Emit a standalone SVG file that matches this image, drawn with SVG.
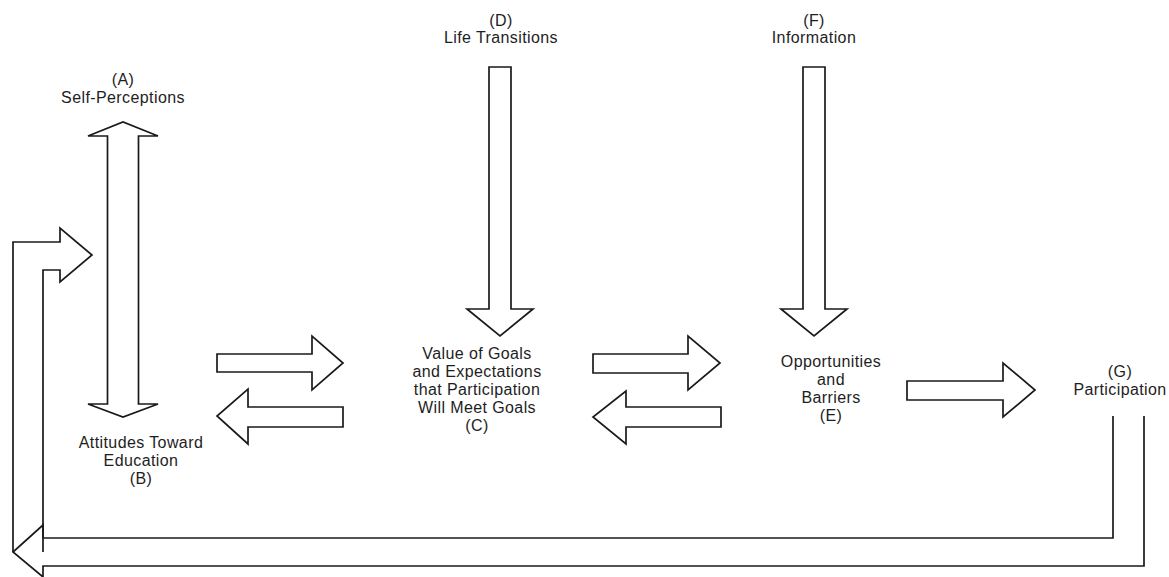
<svg xmlns="http://www.w3.org/2000/svg" width="1169" height="577" viewBox="0 0 1169 577">
  <style>
    .lbl { font-family: "Liberation Sans", Arial, sans-serif; font-size: 16px; letter-spacing: 0.4px; fill: #1e1e1e; text-anchor: middle; }
    .arrow { fill: #ffffff; stroke: #1a1a1a; stroke-width: 1.7; stroke-linejoin: miter; }
    .line { fill: none; stroke: #1a1a1a; stroke-width: 1.7; stroke-linejoin: miter; }
  </style>
  <rect width="1169" height="577" fill="#ffffff"/>

  <!-- Block arrows linking the factors -->
  <g id="connectors">
    <!-- A <-> B -->
    <path class="arrow" d="M107.5,136 H88 L123,122 L158,136 H138.5 V404 H158 L123,417 L88,404 H107.5 Z"/>
    <!-- D -> C -->
    <path class="arrow" d="M489,67 H511 V309 H533 L500,336 L467,309 H489 Z"/>
    <!-- F -> E -->
    <path class="arrow" d="M803,67 H825 V309 H847 L814,336 L781,309 H803 Z"/>
    <!-- B -> C -->
    <path class="arrow" d="M217,354 H312 V336 L343,363 L312,390 V372 H217 Z"/>
    <!-- C -> B -->
    <path class="arrow" d="M343,407 H248 V389 L217,416 L248,444 V427 H343 Z"/>
    <!-- C -> E -->
    <path class="arrow" d="M593,354 H688 V336 L720,363 L688,390 V373 H593 Z"/>
    <!-- E -> C -->
    <path class="arrow" d="M721,407 H626 V391 L593,417 L626,444 V427 H721 Z"/>
    <!-- E -> G -->
    <path class="arrow" d="M907,381 H1003 V363 L1035,390 L1003,417 V400 H907 Z"/>
    <!-- G feedback loop back to A/B -->
    <path class="line" d="M1113,416 V538 H43 V525 L13,552 L43,577 V566 H1144 V416"/>
    <path class="line" d="M13,552 V242 H60 V228 L92,255 L60,282 V270 H43 V552"/>
  </g>

  <g id="node-a">
    <text class="lbl" x="123" y="85">(A)</text>
    <text class="lbl" x="123" y="103">Self-Perceptions</text>
  </g>

  <g id="node-b">
    <text class="lbl" x="141" y="448">Attitudes Toward</text>
    <text class="lbl" x="141" y="466">Education</text>
    <text class="lbl" x="141" y="484">(B)</text>
  </g>

  <g id="node-c">
    <text class="lbl" x="477" y="359">Value of Goals</text>
    <text class="lbl" x="477" y="377">and Expectations</text>
    <text class="lbl" x="477" y="395">that Participation</text>
    <text class="lbl" x="477" y="413">Will Meet Goals</text>
    <text class="lbl" x="477" y="431">(C)</text>
  </g>

  <g id="node-d">
    <text class="lbl" x="501" y="26">(D)</text>
    <text class="lbl" x="501" y="43">Life Transitions</text>
  </g>

  <g id="node-e">
    <text class="lbl" x="831" y="367">Opportunities</text>
    <text class="lbl" x="831" y="385">and</text>
    <text class="lbl" x="831" y="403">Barriers</text>
    <text class="lbl" x="831" y="421">(E)</text>
  </g>

  <g id="node-f">
    <text class="lbl" x="814" y="26">(F)</text>
    <text class="lbl" x="814" y="43">Information</text>
  </g>

  <g id="node-g">
    <text class="lbl" x="1120" y="377">(G)</text>
    <text class="lbl" x="1120" y="395">Participation</text>
  </g>
</svg>
